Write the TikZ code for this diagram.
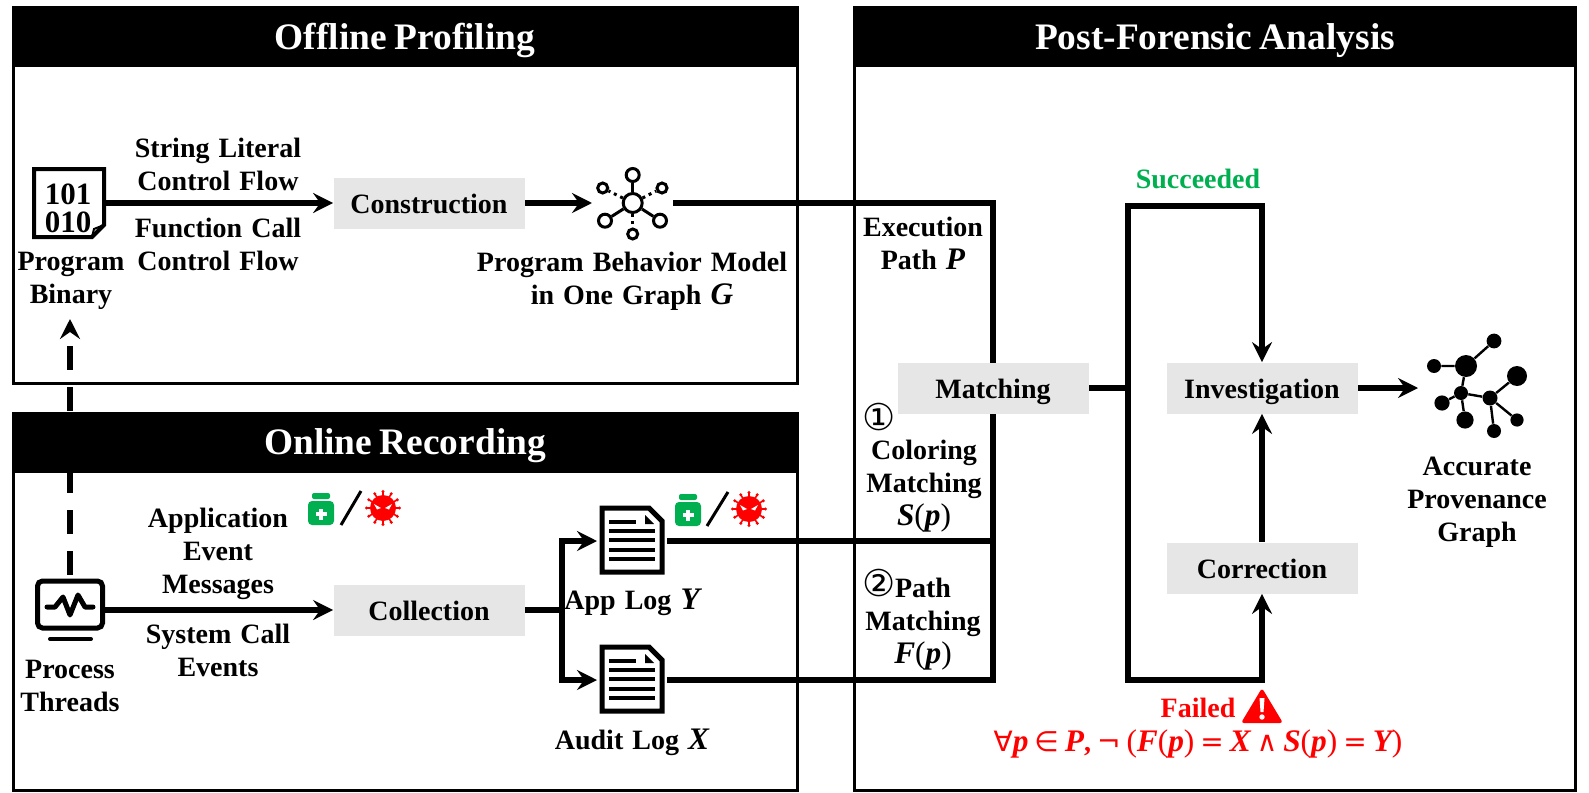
\documentclass[tikz,border=0pt]{standalone}
\usepackage{fontspec}
\usetikzlibrary{arrows.meta,backgrounds,positioning}
\setmainfont[WordSpace=1.3]{Liberation Serif}
\newfontfamily\headfont[WordSpace=0.8]{Liberation Serif}
\newfontfamily\letterfont[Scale=1.12]{Liberation Serif}
\newfontfamily\symfont{DejaVu Sans}
\newcommand{\bi}[1]{{\letterfont\bfseries\itshape #1}}
\newcommand{\rp}[1]{{\letterfont\mdseries #1}}
\definecolor{boxgray}{HTML}{E6E6E6}
\definecolor{okgreen}{HTML}{00B050}
\tikzset{
  head/.style={fill=black,text=white,font=\headfont\fontsize{18.7}{22}\selectfont\bfseries,inner sep=0pt,minimum height=29.5pt,text height=14.6pt,text depth=3pt},
  stepbox/.style={fill=boxgray,font=\fontsize{14}{16.5}\selectfont\bfseries,inner sep=0pt,minimum width=95.5pt,minimum height=25.5pt,text height=11.5pt,text depth=1.5pt},
  txt/.style={align=center,inner sep=0pt,yshift=-1.2pt,font=\fontsize{14}{16.5}\selectfont\bfseries},
  wire/.style={line width=3pt},
  flow/.style={line width=3pt,-{Stealth[length=10pt,width=10pt,inset=3.5pt]}},
  hub/.style={circle,draw,line width=1.5pt,fill=white,inner sep=0pt},
  dot/.style={circle,fill=black,inner sep=0pt,minimum size=#1},
  medicine/.pic={
    \fill[okgreen,rounded corners=1pt] (-9,-16) rectangle (9,-10);
    \fill[okgreen,rounded corners=2pt] (-13,-8) rectangle (13,16);
    \fill[white] (-1.7,-0.5) rectangle (1.7,10.5);
    \fill[white] (-5.5,3.3) rectangle (5.5,6.7);
  },
  virus/.pic={
    \foreach \a in {0,30,...,330} {
      \draw[red,line width=0.8pt] (0,0) -- (\a:16.5);
      \fill[red] (\a:16.5) circle (1.7);
    }
    \fill[red] (0,0) circle (13);
    \fill[white] (-9,-4) -- (-2,0) -- (-6,1.5) -- cycle;
    \fill[white] (9,-4) -- (2,0) -- (6,1.5) -- cycle;
  },
  logdoc/.pic={
    \draw[line width=2.5pt,fill=white] (-30,-32) -- (17,-32) -- (30,-19) -- (30,32) -- (-30,32) -- cycle;
    \fill (13,-25) -- (22,-16) -- (13,-16) -- cycle;
    \draw[line width=2pt] (-23,-18) -- (4,-18);
    \foreach \y in {-9,0,9.5,19} {
      \draw[line width=2pt] (-23,\y) -- (23,\y);
    }
  }
}
\begin{document}
\begin{tikzpicture}[x=0.5pt,y=-0.5pt]
  \useasboundingbox (0,0) rectangle (1589,792);

  % headers
  \node[head,minimum width=392pt] (offlinehead) at (405,38) {Offline Profiling};
  \node[head,minimum width=392pt] (onlinehead) at (405,443) {Online Recording};
  \node[head,minimum width=360.5pt] (posthead) at (1215,38) {Post-Forensic Analysis};

  % steps
  \node[stepbox] (construction) at (429,203) {Construction};
  \node[stepbox] (collection) at (429,610) {Collection};
  \node[stepbox] (matching) at (993,388) {Matching};
  \node[stepbox] (investigation) at (1262,388) {Investigation};
  \node[stepbox] (correction) at (1262,568) {Correction};

  % icons
  \node[inner sep=0pt,minimum width=36pt,minimum height=35pt] (binary) at (68.5,203) {};
  \draw[line width=2pt] (34,169) -- (104,169) -- (104,225) -- (92,237) -- (34,237) -- cycle;
  \draw[line width=1pt] (92,237) -- (94,229) -- (104,225);
  \node[txt,font=\fontsize{15.5}{14}\selectfont\bfseries] (binarytext) at (68,206) {101\\010};

  \node[hub,minimum size=9.5pt] (model) at (632.7,203) {};
  \foreach \name/\px/\py/\sz in {mtop/632.7/175/6.5,mleft/605/220.7/6.5,mright/660/220.7/6.5} {
    \node[hub,minimum size=\sz pt] (\name) at (\px,\py) {};
    \draw[line width=1.5pt] (model) -- (\name);
  }
  \foreach \name/\px/\py in {mul/602.7/188,mur/662/188,mbot/632.7/234} {
    \node[hub,minimum size=5pt] (\name) at (\px,\py) {};
    \draw[line width=1.5pt,dotted] (model) -- (\name);
  }
  \coordinate (modelin) at (592,203);
  \coordinate (modelout) at (673,203);

  \node[inner sep=0pt,minimum width=34pt,minimum height=26pt] (threads) at (70,610) {};
  \draw[line width=2.5pt,rounded corners=2.5pt] (37.5,581) rectangle (102.5,628);
  \draw[line width=2.5pt,line cap=round,line join=round] (47,607) -- (55,607) -- (63,597) -- (70,615) -- (78,595) -- (85,607) -- (93,607);
  \draw[line width=2pt,line cap=round] (50,639) -- (91,639);
  \coordinate (binaryin) at (70,319);

  \node[inner sep=0pt,outer sep=1.5pt,minimum width=32pt,minimum height=34pt] (applog) at (632,541) {};
  \pic at (632,540) {logdoc};
  \node[inner sep=0pt,outer sep=1.5pt,minimum width=32pt,minimum height=34pt] (auditlog) at (632,680) {};
  \pic at (632,679) {logdoc};

  \pic at (321,509) {medicine};
  \draw[line width=1.5pt] (341,525) -- (361,491);
  \pic at (383,508) {virus};
  \pic at (688,510) {medicine};
  \draw[line width=1.5pt] (707,526) -- (728,492);
  \pic at (749,509) {virus};

  \foreach \name/\px/\py/\sz in {pa/1466/366/11,pb/1494/341/7.4,pc/1434/366/7,pd/1517/376/10,pe/1461/393/7,pf/1490/398/7.5,pg/1442/403/7.6,ph/1465/420/8.6,pi/1517/420/6.6,pj/1494/431/7} {
    \node[dot=\sz pt] (\name) at (\px,\py) {};
  }
  \draw[line width=1.2pt] (pa) -- (pb) (pa) -- (pc) (pa) -- (pe) (pe) -- (pg) (pe) -- (ph) (pe) -- (pf) (pf) -- (pd) (pf) -- (pi) (pf) -- (pj);
  \coordinate (provenance) at (1418,388);

  % texts
  \node[txt] (stringflow) at (218,162) {String Literal\\Control Flow};
  \node[txt] (callflow) at (218,242) {Function Call\\Control Flow};
  \node[txt] (binarylabel) at (71,278) {Program\\Binary};
  \node[txt] (modellabel) at (632,279) {Program Behavior Model\\in One Graph \bi{G}};
  \node[txt] (eventmsg) at (218,551) {Application\\Event\\Messages};
  \node[txt] (syscall) at (218,648) {System Call\\Events};
  \node[txt] (threadlabel) at (70,684) {Process\\Threads};
  \node[txt] (appname) at (632,600) {App Log \bi{Y}};
  \node[txt] (auditname) at (632,740) {Audit Log \bi{X}};
  \node[txt] (pathname) at (923,241) {Execution\\Path \bi{P}};
  \node[font=\symfont\fontsize{18.5}{18}\selectfont,inner sep=0pt] (numone) at (879,417) {①};
  \node[txt] (coloring) at (924,484) {Coloring\\Matching\\\bi{S}\rp{(}\bi{p}\rp{)}};
  \node[font=\symfont\fontsize{18.5}{18}\selectfont,inner sep=0pt] (numtwo) at (879,583) {②};
  \node[txt] (pathmatch) at (923,622) {Path\\Matching\\\bi{F}\rp{(}\bi{p}\rp{)}};
  \node[txt,text=okgreen] (succeeded) at (1198,177) {Succeeded};
  \node[txt,text=red] (failed) at (1198,706) {Failed};
  \fill[red,rounded corners=1.5pt] (1262,688) -- (1283,723) -- (1241,723) -- cycle;
  \fill[white] (1259.5,698) -- (1264.5,698) -- (1263.5,712) -- (1260.5,712) -- cycle;
  \fill[white] (1262,717) circle (2.7);
  \node[txt,text=red,font=\fontsize{14}{16}\selectfont] (formula) at (1198,742) {{\symfont∀}\bi{p}\hspace{3pt}{\symfont∈}\hspace{3pt}\bi{P}\textbf{,}\hspace{3pt}{\symfont¬}\hspace{3pt}\rp{(}\bi{F}\rp{(}\bi{p}\rp{)}\hspace{3pt}{\symfont=}\hspace{3pt}\bi{X}\hspace{3pt}{\symfont∧}\hspace{3pt}\bi{S}\rp{(}\bi{p}\rp{)}\hspace{3pt}{\symfont=}\hspace{3pt}\bi{Y}\rp{)}};
  \node[txt] (graphlabel) at (1477,500) {Accurate\\Provenance\\Graph};

  \begin{scope}[on background layer]
    % panels
    \draw[line width=1.5pt] (13,8) rectangle (797,383);
    \draw[line width=1.5pt] (13,413) rectangle (797,790);
    \draw[line width=1.5pt] (854,8) rectangle (1575,790);

    % flows
    \draw[flow] (binary.east) -- (construction.west);
    \draw[flow] (construction.east) -- (modelin);
    \draw[flow] (threads.east) -- (collection.west);
    \draw[flow,dash pattern=on 12pt off 8.5pt] (threads.north) ++(0,-9) -- (binaryin);

    \coordinate (branch) at (562,610);
    \draw[wire] (collection.east) -- (branch);
    \draw[flow] (branch) |- (applog.west);
    \draw[flow] (branch) |- (auditlog.west);

    \coordinate (trunktop) at (993,203);
    \coordinate (trunkbot) at (993,680);
    \draw[wire] (modelout) -- (trunktop) -- (trunkbot) -- (auditlog.east);
    \draw[wire] (applog.east) -- (trunktop |- applog.east);

    \coordinate (fork) at (1128,388);
    \coordinate (forktop) at (1128,206);
    \coordinate (forkbot) at (1128,680);
    \draw[wire] (matching.east) -- (fork);
    \draw[flow] (fork) -- (forktop) -| (investigation.north);
    \draw[flow] (fork) -- (forkbot) -| (correction.south);
    \draw[flow] (correction.north) -- (investigation.south);
    \draw[flow] (investigation.east) -- (provenance);
  \end{scope}
\end{tikzpicture}
\end{document}
